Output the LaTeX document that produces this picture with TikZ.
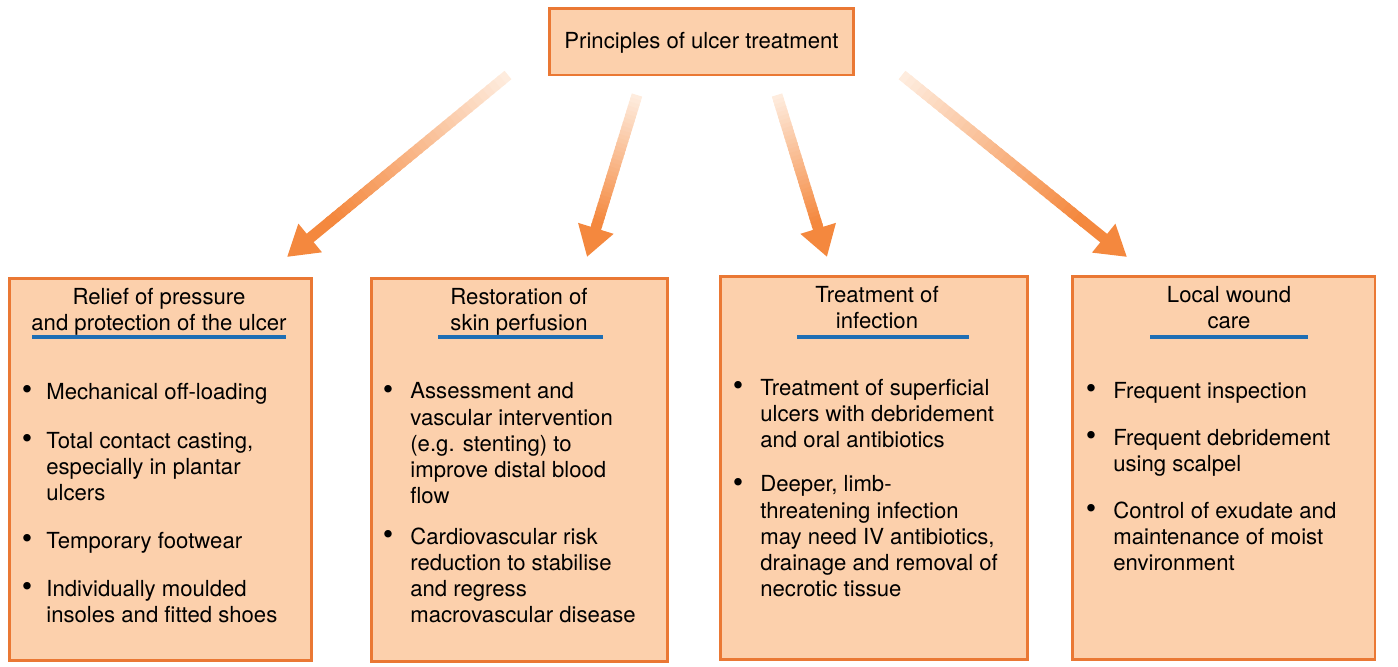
\documentclass[tikz,border=0pt]{standalone}
\usepackage{fontspec}
\setmainfont{TeX Gyre Heros}
\usepackage{tikz}
\usetikzlibrary{arrows.meta, calc}
\definecolor{peach}{RGB}{252,208,172}
\definecolor{boxline}{RGB}{234,120,52}
\definecolor{ulblue}{RGB}{30,110,180}
\definecolor{arrowor}{RGB}{244,136,62}
\definecolor{arrowpale}{RGB}{254,236,222}

\tikzset{
  boxnode/.style={draw=boxline, fill=peach, line width=1.7pt, inner sep=0pt},
  titletext/.style={align=center, anchor=base, inner sep=0pt},
  itemtext/.style={align=left, anchor=base west, inner sep=0pt},
  bullet/.style={anchor=base, inner sep=0pt, scale=1.35},
  uline/.style={draw=ulblue, line width=2pt},
  shaft/.style={line width=6.2pt, line cap=butt}
}

\begin{document}
\begin{tikzpicture}[x=0.02cm, y=-0.02cm, >=Stealth,
    font=\fontsize{12.6}{14.8}\selectfont]
  \useasboundingbox (0,0) rectangle (1398,666);

  % top box
  \node[boxnode, minimum width=6.1cm, minimum height=1.34cm] (top) at (701.5,41.5) {};
  \node[titletext] (toptxt) at (701.5,48) {Principles of ulcer treatment};

  % the four boxes
  \node[boxnode, minimum width=6.06cm, minimum height=7.66cm] (relief) at (160.5,469.5) {};
  \node[boxnode, minimum width=5.94cm, minimum height=7.68cm] (resto) at (519.5,470) {};
  \node[boxnode, minimum width=6.16cm, minimum height=7.68cm] (infect) at (874,468) {};
  \node[boxnode, minimum width=6.06cm, minimum height=7.68cm] (wound) at (1223.5,468) {};

  % titles with blue rule (base = last line)
  \node[titletext] (t1) at (159,330) {Relief of pressure\\and protection of the ulcer};
  \node[titletext] (t2) at (519,330) {Restoration of\\skin perfusion};
  \node[titletext] (t3) at (877,328) {Treatment of\\infection};
  \node[titletext] (t4) at (1229,328) {Local wound\\care};
  \draw[uline] (32,337) -- (286,337);
  \draw[uline] (438,337) -- (603,337);
  \draw[uline] (797,337) -- (969,337);
  \draw[uline] (1150,337) -- (1308,337);

  % bullet lists: first baseline / number of lines / text
  \foreach \y/\k/\txt in {399/1/{Mechanical off-loading},
      448/3/{Total contact casting,\\especially in plantar\\ulcers},
      548/1/{Temporary footwear},
      596/2/{Individually moulded\\insoles and fitted shoes}} {
    \node[bullet] at (27,\y) {\textbullet};
    \node[itemtext] at (46,\y+26*\k-26) {\txt};
  }
  \foreach \y/\k/\txt in {399/5/{Assessment and\\vascular intervention\\(e.g. stenting) to\\improve distal blood\\flow},
      544/4/{Cardiovascular risk\\reduction to stabilise\\and regress\\macrovascular disease}} {
    \node[bullet] at (388,\y) {\textbullet};
    \node[itemtext] at (410,\y+26*\k-26) {\txt};
  }
  \foreach \y/\k/\txt in {395/3/{Treatment of superficial\\ulcers with debridement\\and oral antibiotics},
      492/5/{Deeper, limb-\\threatening infection\\may need IV antibiotics,\\drainage and removal of\\necrotic tissue}} {
    \node[bullet] at (738,\y) {\textbullet};
    \node[itemtext] at (760,\y+26*\k-26) {\txt};
  }
  \foreach \y/\k/\txt in {398/1/{Frequent inspection},
      445/2/{Frequent debridement\\using scalpel},
      518/3/{Control of exudate and\\maintenance of moist\\environment}} {
    \node[bullet] at (1091,\y) {\textbullet};
    \node[itemtext] at (1113,\y+26*\k-26) {\txt};
  }

  % arrow ends
  \coordinate (a1s) at (508,75);   \coordinate (a1e) at (287,257);
  \coordinate (a2s) at (637,95);   \coordinate (a2e) at (587,257);
  \coordinate (a3s) at (777,95);   \coordinate (a3e) at (827,257);
  \coordinate (a4s) at (902,75);   \coordinate (a4e) at (1127,257);

  % fading arrows
  \foreach \n in {1,...,4} {
    \foreach \i in {0,...,31} {
      \pgfmathsetmacro\pa{0.8*\i/32}
      \pgfmathsetmacro\pb{0.8*(\i+1.4)/32}
      \pgfmathsetmacro\mix{100*\i/31}
      \draw[shaft, draw=arrowor!\mix!arrowpale] ($(a\n s)!\pa!(a\n e)$) -- ($(a\n s)!\pb!(a\n e)$);
    }
    \draw[shaft, draw=arrowor, -{Triangle[length=0.6cm, width=0.7cm]}]
      ($(a\n s)!0.8!(a\n e)$) -- (a\n e);
  }
\end{tikzpicture}
\end{document}
